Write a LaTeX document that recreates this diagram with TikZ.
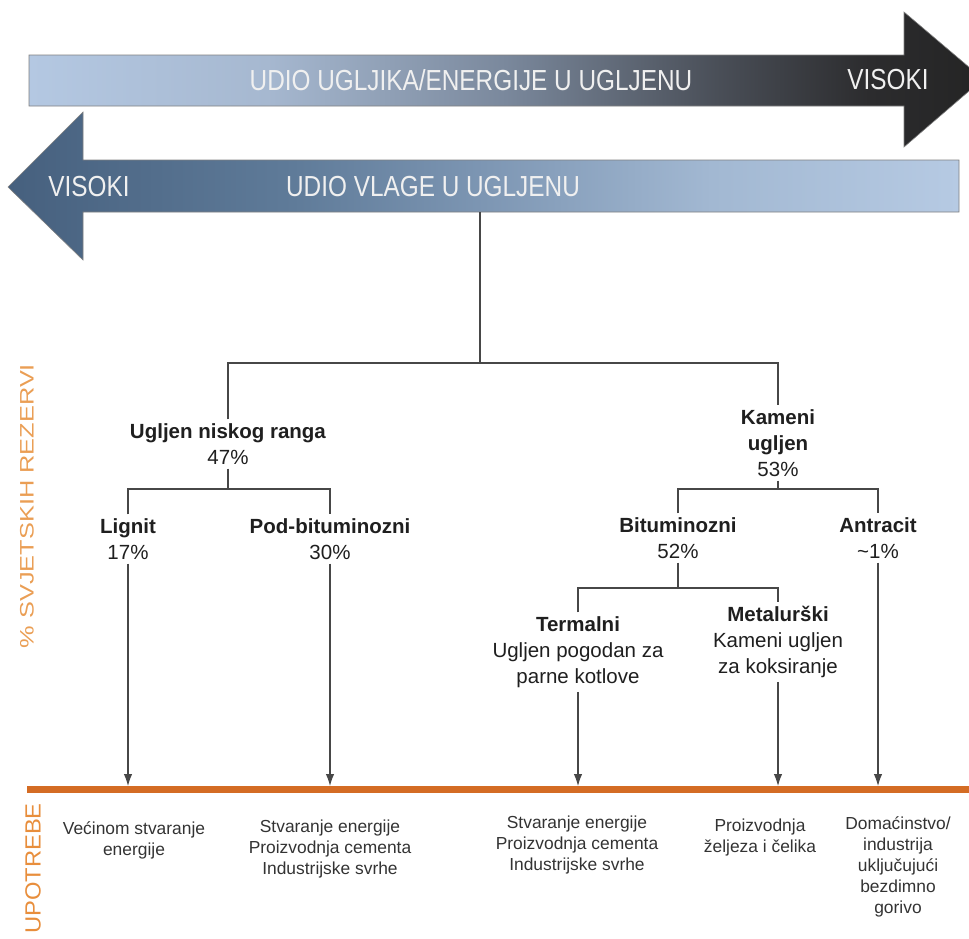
\documentclass[tikz,border=0pt]{standalone}
\usepackage{fontspec}
\setmainfont{Liberation Sans}
\newfontfamily\uskifont[FakeStretch=0.84]{Liberation Sans}
\newfontfamily\bocnifont[FakeStretch=1.3]{Liberation Sans}
\newfontfamily\upotrebafont[FakeStretch=1.08]{Liberation Sans}
\usepackage{tikz}
\usepackage{xcolor}
\usetikzlibrary{arrows.meta}

\definecolor{ug0}{RGB}{180,200,226}
\definecolor{ug1}{RGB}{166,184,208}
\definecolor{ug2}{RGB}{122,136,156}
\definecolor{ug3}{RGB}{74,79,88}
\definecolor{ug4}{RGB}{44,44,46}
\definecolor{ug5}{RGB}{36,36,36}
\definecolor{vl0}{RGB}{70,96,126}
\definecolor{vl1}{RGB}{95,123,153}
\definecolor{vl2}{RGB}{125,150,179}
\definecolor{vl3}{RGB}{162,184,210}
\definecolor{vl4}{RGB}{182,202,227}
\definecolor{narancasta}{RGB}{212,108,36}
\definecolor{rezerve}{RGB}{234,158,84}
\definecolor{upotrebe}{RGB}{232,142,60}
\pgfdeclarehorizontalshading{ugljik}{100bp}{color(0bp)=(ug0); color(25bp)=(ug0); color(37.5bp)=(ug1); color(50bp)=(ug2); color(61bp)=(ug3); color(69bp)=(ug4); color(75bp)=(ug5); color(100bp)=(ug5)}
\pgfdeclarehorizontalshading{vlaga}{100bp}{color(0bp)=(vl0); color(25bp)=(vl0); color(40bp)=(vl1); color(50bp)=(vl2); color(62bp)=(vl3); color(75bp)=(vl4); color(100bp)=(vl4)}

\begin{document}
\begin{tikzpicture}[x=1pt, y=-1pt,
    vrsta/.style={align=center, inner sep=4pt, text=black!88, font=\fontsize{20.5}{26}\selectfont},
    upotreba/.style={align=center, anchor=north, inner sep=0pt, text=black!80, font=\fontsize{17.4}{21}\selectfont},
    grana/.style={draw=black!72, line width=1.1pt},
    prema/.style={grana, -{Latex[length=12pt, width=8.5pt]}},
    natpis/.style={inner sep=0pt, text=white!94!black, font=\uskifont\fontsize{29}{30}\selectfont},
    oblik/.style={draw=black!50, line width=0.6pt}]
	\useasboundingbox (0,0) rectangle (969,938);
	\shadedraw[oblik, shading=ugljik] (29,55) -- (904,55) -- (904,12) -- (983,79) -- (904,147) -- (904,106) -- (29,106) -- cycle;
	\shadedraw[oblik, shading=vlaga] (959,160) -- (83,160) -- (83,112) -- (8,187) -- (83,260) -- (83,212) -- (959,212) -- cycle;
	\node[natpis] (ugljik) at (471,80) {UDIO UGLJIKA/ENERGIJE U UGLJENU};
	\node[natpis] (visoko1) at (888,80) {VISOKI};
	\node[natpis] (visoko2) at (89,187) {VISOKI};
	\node[natpis] (vlaga) at (433,187) {UDIO VLAGE U UGLJENU};
	\node[rotate=90, inner sep=0pt, text=rezerve, font=\bocnifont\fontsize{19.5}{20}\selectfont] (rezerve) at (27,506) {\% SVJETSKIH REZERVI};
	\node[rotate=90, anchor=east, inner sep=0pt, text=upotrebe, font=\upotrebafont\fontsize{22}{24}\selectfont] (upotrebe) at (33,803) {UPOTREBE};
	\coordinate (dno) at (480,212);
	\coordinate (j0) at (480,363);
	\coordinate (j1) at (228,489);
	\coordinate (j2) at (778,489);
	\coordinate (j3) at (678,588);
	\node[vrsta] (nisko) at (228,444) {\textbf{Ugljen niskog ranga}\\47\%};
	\node[vrsta] (kameni) at (778,443) {\textbf{Kameni}\\\textbf{ugljen}\\53\%};
	\node[vrsta] (lignit) at (128,539) {\textbf{Lignit}\\17\%};
	\node[vrsta] (podbit) at (330,539) {\textbf{Pod-bituminozni}\\30\%};
	\node[vrsta] (bitum) at (678,538) {\textbf{Bituminozni}\\52\%};
	\node[vrsta] (antracit) at (878,538) {\textbf{Antracit}\\\textasciitilde1\%};
	\node[vrsta] (termalni) at (578,652) {\textbf{Termalni}\\Ugljen pogodan za\\parne kotlove};
	\node[vrsta] (metal) at (778,642) {\textbf{Metalurški}\\Kameni ugljen\\za koksiranje};
	\draw[grana] (dno) -- (j0);
	\draw[grana] (nisko) |- (j0) -| (kameni);
	\draw[grana] (nisko) -- (j1);
	\draw[grana] (lignit) |- (j1) -| (podbit);
	\draw[grana] (kameni) -- (j2);
	\draw[grana] (bitum) |- (j2) -| (antracit);
	\draw[grana] (bitum) -- (j3);
	\draw[grana] (termalni) |- (j3) -| (metal);
	\draw[line width=7pt, narancasta] (27,789) -- (969,789);
	\coordinate (u1) at (128,786);
	\coordinate (u2) at (330,786);
	\coordinate (u3) at (578,786);
	\coordinate (u4) at (778,786);
	\coordinate (u5) at (878,786);
	\draw[prema] (lignit) -- (u1);
	\draw[prema] (podbit) -- (u2);
	\draw[prema] (termalni) -- (u3);
	\draw[prema] (metal) -- (u4);
	\draw[prema] (antracit) -- (u5);
	\node[upotreba] (k1) at (134,821) {Većinom stvaranje\\energije};
	\node[upotreba] (k2) at (330,819.5) {Stvaranje energije\\Proizvodnja cementa\\Industrijske svrhe};
	\node[upotreba] (k3) at (577,815.5) {Stvaranje energije\\Proizvodnja cementa\\Industrijske svrhe};
	\node[upotreba] (k4) at (760,818.5) {Proizvodnja\\željeza i čelika};
	\node[upotreba] (k5) at (898,816.5) {Domaćinstvo/\\industrija\\uključujući\\bezdimno\\gorivo};
\end{tikzpicture}
\end{document}
